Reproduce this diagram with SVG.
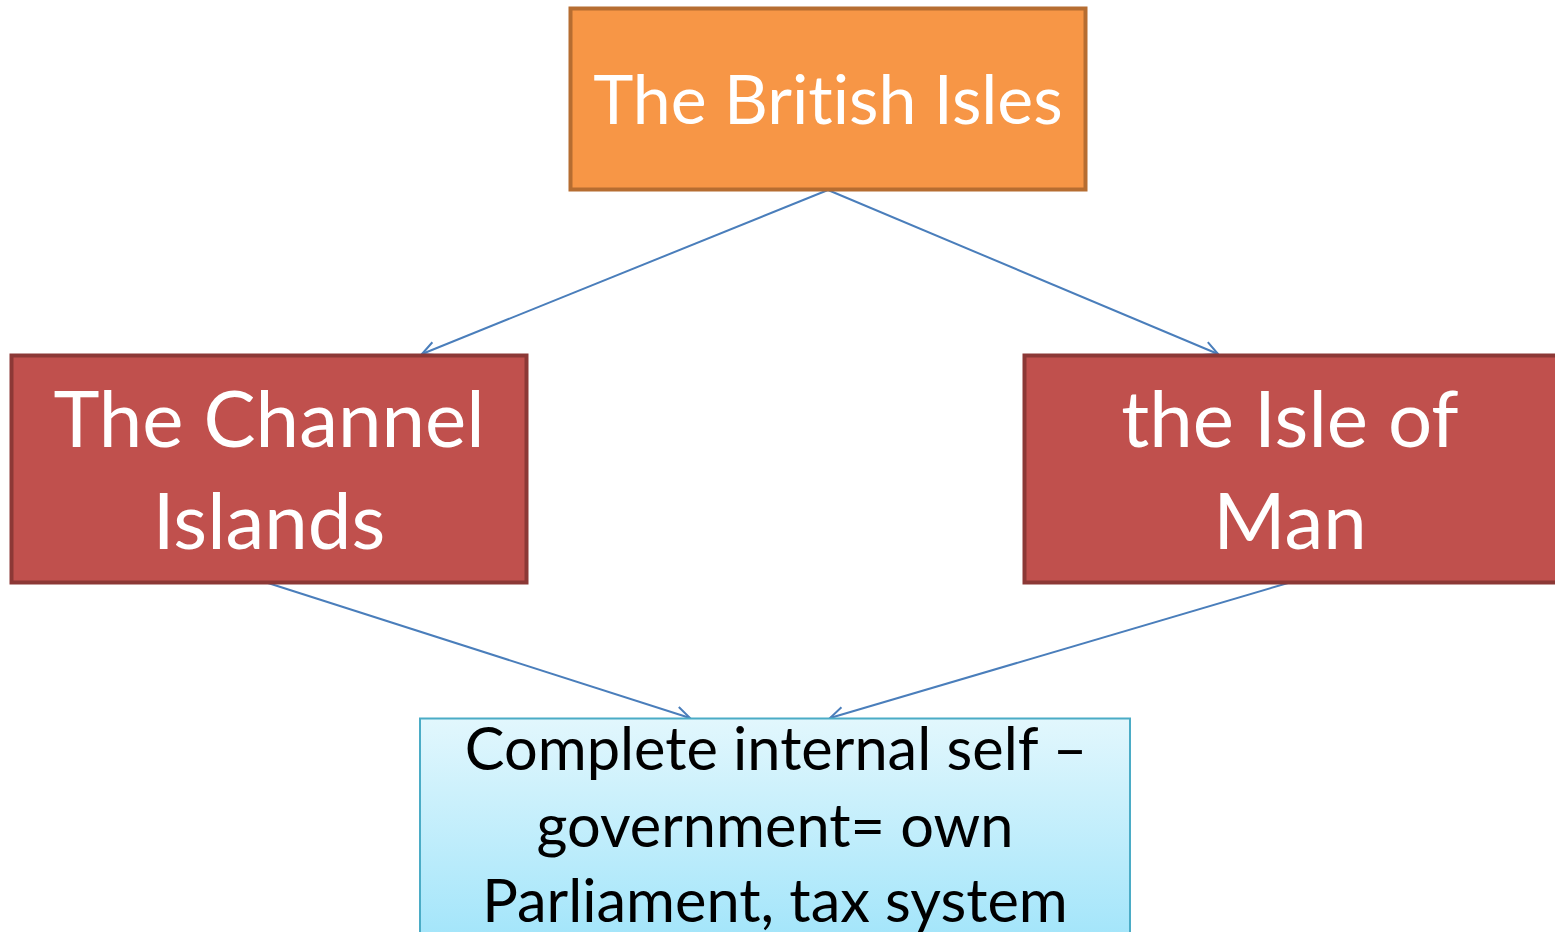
<svg xmlns="http://www.w3.org/2000/svg" width="1555" height="932" viewBox="0 0 1555 932">
<defs>
<linearGradient id="blueGrad" x1="0" y1="0" x2="0" y2="1">
<stop offset="0" stop-color="#E2F7FD"/>
<stop offset="1" stop-color="#A3E5FA"/>
</linearGradient>
<marker id="arr" viewBox="0 0 20 20" refX="18" refY="10" markerWidth="20" markerHeight="20" markerUnits="userSpaceOnUse" orient="auto">
<path d="M4 3 L18 10 L4 17" fill="none" stroke="#4A7EBB" stroke-width="2"/>
</marker>
<style>
.lbl{font-family:"Lato","Open Sans","Liberation Sans",sans-serif;text-anchor:middle;font-variant-ligatures:none;font-feature-settings:"liga" 0}
.w{fill:#ffffff}
.k{fill:#000000}
.conn{stroke:#4A7EBB;stroke-width:2;fill:none;marker-end:url(#arr)}
</style>
</defs>
<rect width="1555" height="932" fill="#ffffff"/>
<g id="connectors">
<line class="conn" x1="828" y1="190" x2="422" y2="354"/>
<line class="conn" x1="828" y1="190" x2="1218" y2="354"/>
<line class="conn" x1="268" y1="583" x2="690" y2="718"/>
<line class="conn" x1="1288" y1="583" x2="830" y2="718"/>
</g>
<g id="british-isles">
<rect x="570.5" y="8.5" width="515" height="181" fill="#F79646" stroke="#B66D31" stroke-width="4"/>
<text class="lbl w" x="828" y="124" font-size="68">The British Isles</text>
</g>
<g id="channel-islands">
<rect x="11.5" y="355.5" width="515" height="227" fill="#C0504D" stroke="#8C3836" stroke-width="4"/>
<text class="lbl w" x="269" y="447" font-size="78">The Channel</text>
<text class="lbl w" x="269" y="549" font-size="78">Islands</text>
</g>
<g id="isle-of-man">
<rect x="1024.5" y="355.5" width="533" height="227" fill="#C0504D" stroke="#8C3836" stroke-width="4"/>
<text class="lbl w" x="1290" y="447" font-size="78">the Isle of</text>
<text class="lbl w" x="1290" y="549" font-size="78">Man</text>
</g>
<g id="self-government">
<rect x="420" y="718.5" width="710" height="220" fill="url(#blueGrad)" stroke="#4BACC6" stroke-width="2"/>
<text class="lbl k" x="776" y="770" font-size="59.5">Complete internal self –</text>
<text class="lbl k" x="775" y="847" font-size="59.5">government= own</text>
<text class="lbl k" x="775" y="922" font-size="59.5">Parliament, tax system</text>
</g>
</svg>
